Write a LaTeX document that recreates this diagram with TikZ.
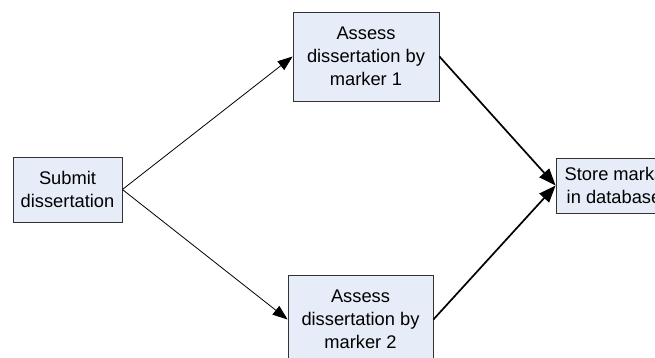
\documentclass[tikz,border=0pt]{standalone}
\usepackage{fontspec}
\setmainfont{Liberation Sans}
\usepackage{tikz}
\usetikzlibrary{arrows.meta}

\definecolor{taskfill}{RGB}{230,236,248}
\definecolor{taskline}{RGB}{50,50,50}

\begin{document}
\begin{tikzpicture}[
  x=1pt, y=-1pt,
  font=\fontsize{18.3}{23}\selectfont,
  task/.style={rectangle, draw=taskline, fill=taskfill, line width=0.8pt,
               align=center, inner sep=0pt},
  flow/.style={-{Triangle[length=15pt, width=11pt]}, line width=0.8pt, draw=black},
  flowthick/.style={-{Triangle[length=17pt, width=13pt]}, line width=1.7pt, draw=black},
]
\useasboundingbox (0,0) rectangle (655,358);
\clip (0,0) rectangle (655,358);

\node[task, minimum width=109pt, minimum height=65pt] (submit) at (67.5,189.5)
  {Submit\\dissertation};
\node[task, minimum width=146pt, minimum height=89pt] (mark1) at (366,56.5)
  {Assess\\dissertation by\\marker 1};
\node[task, minimum width=145pt, minimum height=89pt] (mark2) at (360.5,319.5)
  {Assess\\dissertation by\\marker 2};
\node[task, minimum width=116pt, minimum height=55pt] (store) at (614,185.5)
  {Store marks\\in database};

\draw[flow] (submit.east) -- (mark1.west);
\draw[flow] (submit.east) -- (mark2.west);
\draw[flowthick] (mark1.east) -- (store.west);
\draw[flowthick] (mark2.east) -- (store.west);

\end{tikzpicture}
\end{document}
